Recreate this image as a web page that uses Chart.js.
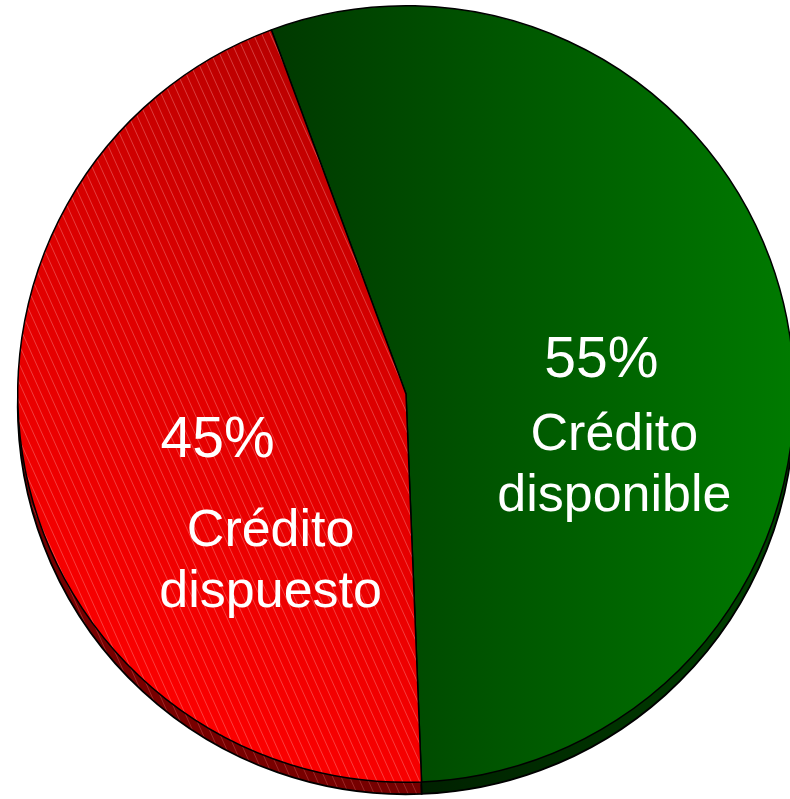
<!DOCTYPE html>
<html>
<head>
<meta charset="utf-8">
<script src="https://cdn.jsdelivr.net/npm/chart.js@4/dist/chart.umd.min.js"></script>
<style>
  html, body { margin: 0; padding: 0; background: #fff; overflow: hidden; }
  #wrap { width: 800px; height: 799px; position: relative; }
</style>
</head>
<body>
<div id="wrap"><canvas id="creditChart"></canvas></div>
<script>
// datos del gráfico
const categories = ['Crédito disponible', 'Crédito dispuesto'];
const percentages = [55, 45];
const labelLines = [['Crédito', 'disponible'], ['Crédito', 'dispuesto']];

const W = 800, H = 799;
const DEPTH = 12;

// relleno rojo: degradado diagonal + rayado fino
function makeRedFill(dark) {
  const c = document.createElement('canvas');
  c.width = W; c.height = H;
  const g = c.getContext('2d');
  const grad = g.createLinearGradient(60, 700, 420, 40);
  if (dark) {
    grad.addColorStop(0, '#7a0000');
    grad.addColorStop(1, '#5a0000');
  } else {
    grad.addColorStop(0, '#ff0000');
    grad.addColorStop(0.55, '#dc0000');
    grad.addColorStop(1, '#b00000');
  }
  g.fillStyle = grad;
  g.fillRect(0, 0, W, H);
  g.strokeStyle = dark ? 'rgba(255,140,140,0.35)' : 'rgba(255,170,170,0.45)';
  g.lineWidth = 0.8;
  for (let x0 = -H; x0 < W + 20; x0 += 8.5) {
    g.beginPath();
    g.moveTo(x0, 0);
    g.lineTo(x0 + H * 0.45, H);
    g.stroke();
  }
  return c;
}

function makeGreenFill(dark) {
  const c = document.createElement('canvas');
  c.width = W; c.height = H;
  const g = c.getContext('2d');
  const grad = g.createLinearGradient(280, 0, 790, 0);
  if (dark) {
    grad.addColorStop(0, '#001400');
    grad.addColorStop(1, '#004200');
  } else {
    grad.addColorStop(0, '#003a00');
    grad.addColorStop(1, '#007a00');
  }
  g.fillStyle = grad;
  g.fillRect(0, 0, W, H);
  return c;
}

const ctx = document.getElementById('creditChart').getContext('2d');
const fills = [
  ctx.createPattern(makeGreenFill(false), 'no-repeat'),
  ctx.createPattern(makeRedFill(false), 'no-repeat')
];
const depthFills = [
  ctx.createPattern(makeGreenFill(true), 'no-repeat'),
  ctx.createPattern(makeRedFill(true), 'no-repeat')
];

// canto inferior del "queso" 3D
const depthPlugin = {
  id: 'depth',
  beforeDatasetsDraw(chart) {
    const c = chart.ctx;
    const meta = chart.getDatasetMeta(0);
    meta.data.forEach((arc, i) => {
      const p = arc.getProps(['x', 'y', 'startAngle', 'endAngle', 'outerRadius'], true);
      c.save();
      c.beginPath();
      c.moveTo(p.x, p.y + DEPTH);
      c.arc(p.x, p.y + DEPTH, p.outerRadius, p.startAngle, p.endAngle);
      c.closePath();
      c.fillStyle = depthFills[i];
      c.fill();
      c.lineWidth = 1.8;
      c.strokeStyle = '#000';
      c.stroke();
      c.restore();
    });
  }
};

// etiquetas blancas dentro de cada porción
const labelOffsets = [
  { pct: [5, 21], name: [18, 94, 155] },
  { pct: [2, 25], name: [55, 114, 175] }
];
const labelPlugin = {
  id: 'sliceLabels',
  afterDatasetsDraw(chart) {
    const c = chart.ctx;
    const meta = chart.getDatasetMeta(0);
    c.save();
    c.fillStyle = '#fff';
    c.textAlign = 'center';
    c.textBaseline = 'alphabetic';
    meta.data.forEach((arc, i) => {
      const pos = arc.tooltipPosition(true);
      const off = labelOffsets[i];
      c.font = '57px "Liberation Sans", Arial, sans-serif';
      c.fillText(percentages[i] + '%', pos.x + off.pct[0], pos.y + off.pct[1]);
      c.font = '52px "Liberation Sans", Arial, sans-serif';
      c.fillText(labelLines[i][0], pos.x + off.name[0], pos.y + off.name[1]);
      c.fillText(labelLines[i][1], pos.x + off.name[0], pos.y + off.name[2]);
    });
    c.restore();
  }
};

new Chart(ctx, {
  type: 'pie',
  data: {
    labels: categories,
    datasets: [{
      data: percentages,
      backgroundColor: fills,
      borderColor: '#000',
      borderWidth: 1.5
    }]
  },
  options: {
    responsive: true,
    maintainAspectRatio: false,
    animation: false,
    rotation: -20.3,
    layout: { padding: { left: 17, right: 5, top: 5, bottom: 16 } },
    plugins: {
      legend: { display: false },
      tooltip: { enabled: false }
    }
  },
  plugins: [depthPlugin, labelPlugin]
});
</script>
</body>
</html>
